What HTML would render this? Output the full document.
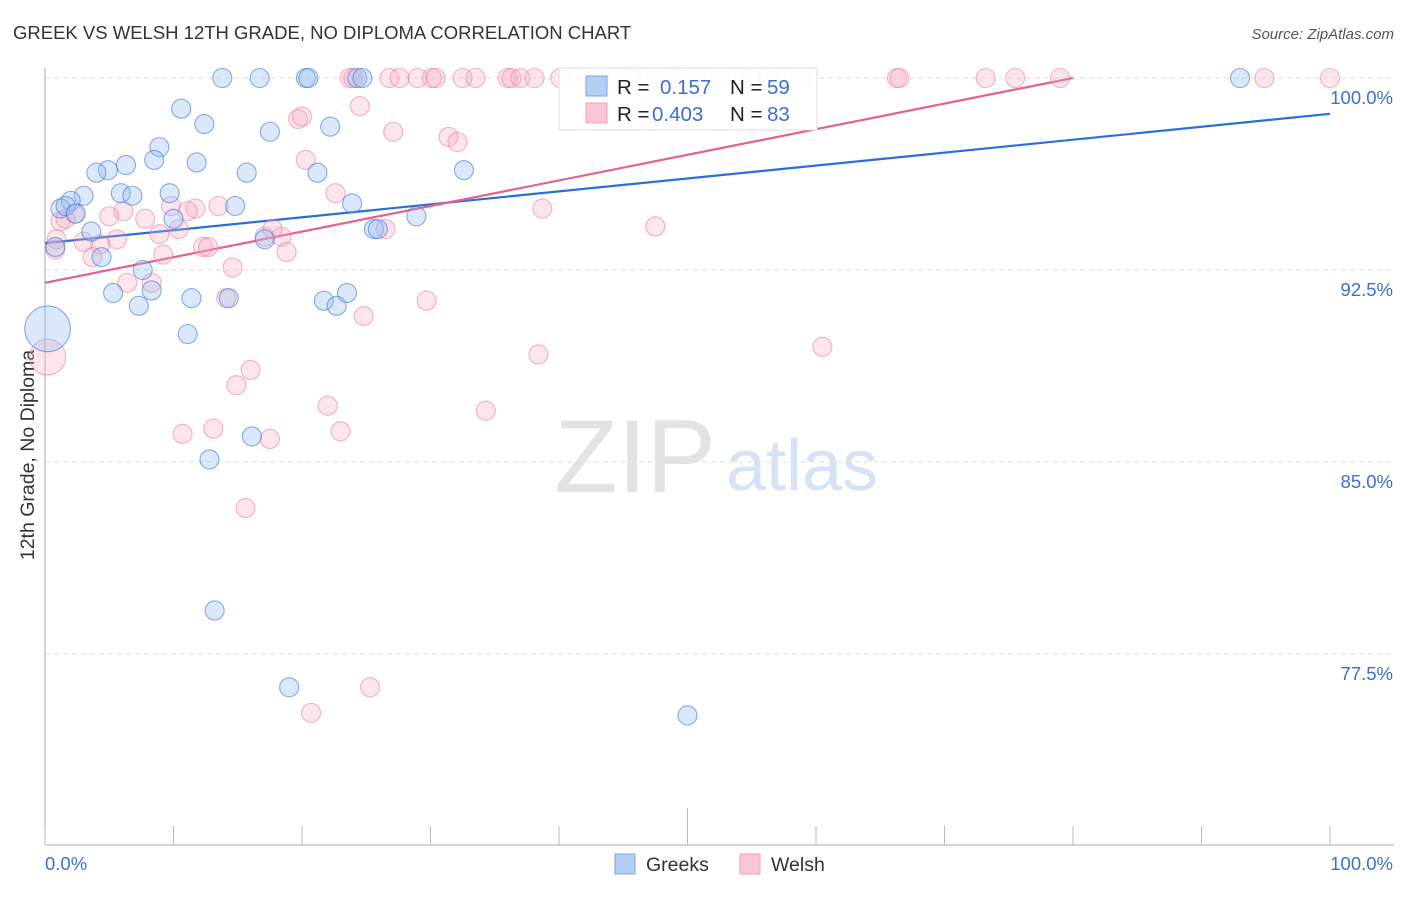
<!DOCTYPE html>
<html><head><meta charset="utf-8">
<style>
body{margin:0;background:#fff;font-family:"Liberation Sans",sans-serif;}
svg text{font-family:"Liberation Sans",sans-serif;}
</style></head>
<body>
<svg id="chart" width="1406" height="892" viewBox="0 0 1406 892" xmlns="http://www.w3.org/2000/svg">
<text x="13" y="39" font-size="18.5" fill="#333">GREEK VS WELSH 12TH GRADE, NO DIPLOMA CORRELATION CHART</text>
<text x="1394" y="39" font-size="15" font-style="italic" fill="#555" text-anchor="end">Source: ZipAtlas.com</text>
<text transform="translate(34,455) rotate(-90)" font-size="19.5" fill="#333" text-anchor="middle">12th Grade, No Diploma</text>
<g>
<text x="635" y="492" font-size="104" font-family="Liberation Serif,serif" fill="#e3e3e3" text-anchor="middle">ZIP</text>
<text x="802" y="490" font-size="72" fill="#d5e3f5" text-anchor="middle">atlas</text>
</g>
<g id="grid"></g>
<g id="axes"></g>
<g id="lines"></g>
<g id="pts"></g>
<g>
<rect x="559" y="68" width="258" height="62" fill="#fff" fill-opacity="0.9" stroke="#ddd"/>
<rect x="586" y="76" width="21" height="20" fill="#b4cff3" stroke="#7aa6e6"/>
<rect x="586" y="103" width="21" height="20" fill="#f9c6d5" stroke="#f0a3bb"/>
<text x="617" y="94" font-size="20.5" fill="#222">R =</text>
<text x="660" y="94" font-size="20.5" fill="#3a70d0">0.157</text>
<text x="730" y="94" font-size="20.5" fill="#222">N =</text>
<text x="767" y="94" font-size="20.5" fill="#3a70d0">59</text>
<text x="617" y="121" font-size="20.5" fill="#222">R =</text>
<text x="652" y="121" font-size="20.5" fill="#3a70d0">0.403</text>
<text x="730" y="121" font-size="20.5" fill="#222">N =</text>
<text x="767" y="121" font-size="20.5" fill="#3a70d0">83</text>
</g>
<g>
<rect x="615" y="854" width="20" height="20" fill="#b4cff3" stroke="#7aa6e6"/>
<text x="646" y="871" font-size="19.5" fill="#333">Greeks</text>
<rect x="740" y="854" width="20" height="20" fill="#f9c6d5" stroke="#f0a3bb"/>
<text x="771" y="871" font-size="19.5" fill="#333">Welsh</text>
</g>
</svg>
<script>
const yTicks=[100,92.5,85,77.5];
const xTickLabels=["0.0%","100.0%"];
const greeksX=[13.8,16.7,20.3,20.5,24.3,24.7,93.0,56.3,10.6,12.4,8.9,17.5,22.2,6.3,4.9,4.0,8.5,11.8,15.7,21.2,32.6,5.9,6.8,9.7,3.0,2.0,1.2,1.6,2.4,14.8,23.9,10.0,28.9,3.6,0.8,4.4,7.6,17.1,25.6,25.9,5.3,8.3,7.3,11.4,14.3,21.7,22.7,23.5,11.1,0.2,16.1,12.8,13.2,19.0,50.0];
const greeksY=[100,100,100,100,100,100,100,100,98.8,98.2,97.3,97.9,98.1,96.6,96.4,96.3,96.8,96.7,96.3,96.3,96.4,95.5,95.4,95.5,95.4,95.2,94.9,95.0,94.7,95.0,95.1,94.5,94.6,94.0,93.4,93.0,92.5,93.7,94.1,94.1,91.6,91.7,91.1,91.4,91.4,91.3,91.1,91.6,90.0,90.2,86.0,85.1,79.2,76.2,75.1];
const greeksSize=[1,1,1,1,1,1,1,1,1,1,1,1,1,1,1,1,1,1,1,1,1,1,1,1,1,1,1,1,1,1,1,1,1,1,1,1,1,1,1,1,1,1,1,1,1,1,1,1,1,2.4,1,1,1,1,1];
const welshX=[23.7,24.0,26.8,27.6,29.0,30.1,30.4,32.5,33.5,36.0,36.3,37.0,38.1,40.1,41.6,43.2,45.5,47.5,49.2,52.5,54.9,58.8,66.3,66.5,73.2,75.5,79.0,94.9,100,24.5,27.1,19.7,20.0,31.4,32.1,20.3,22.6,38.7,47.5,13.5,11.7,11.1,9.8,6.1,5.0,2.3,1.2,1.6,7.8,8.9,10.4,5.6,4.3,3.0,0.9,0.8,3.7,6.4,9.2,12.3,12.7,14.6,17.1,18.4,18.8,17.7,26.5,8.3,14.1,24.8,29.7,38.4,60.5,16.0,14.9,0.2,22.0,34.3,10.7,13.1,17.5,23.0,15.6,25.3,20.7];
const welshY=[100,100,100,100,100,100,100,100,100,100,100,100,100,100,100,100,100,100,100,100,100,100,100,100,100,100,100,100,100,98.9,97.9,98.4,98.5,97.7,97.5,96.8,95.5,94.9,94.2,95.0,94.9,94.8,95.0,94.8,94.6,94.7,94.4,94.5,94.5,93.9,94.1,93.7,93.5,93.6,93.7,93.3,93.0,92.0,93.1,93.4,93.4,92.6,93.8,93.8,93.2,94.1,94.1,92.0,91.4,90.7,91.3,89.2,89.5,88.6,88.0,89.1,87.2,87.0,86.1,86.3,85.9,86.2,83.2,76.2,75.2];
const welshSize=welshX.map((v,i)=>i===75?1.9:1);
const greeksFit=[93.55,98.6];
const welshFit=[92.0,102.0];

const NS="http://www.w3.org/2000/svg";
const X0=45,X1=1330,Y100=78,PXPER=192/7.5,AXY=845;
const sx=v=>X0+(X1-X0)*v/100;
const sy=v=>Y100+(100-v)*PXPER;
function mk(tag,attrs,parent){const e=document.createElementNS(NS,tag);for(const k in attrs)e.setAttribute(k,attrs[k]);parent.appendChild(e);return e;}
const grid=document.getElementById('grid'),axes=document.getElementById('axes');
yTicks.forEach(t=>{
 const l=mk('line',{x1:X0,x2:1394,y1:sy(t),y2:sy(t),stroke:'#ddd','stroke-dasharray':'5,4'},grid);
 
 
 const tx=mk('text',{x:1393,y:sy(t)+26,'font-size':18.5,fill:'#3a70d0','text-anchor':'end'},grid);
 tx.textContent=t.toFixed(1)+'%';
 
 
});
const ya=mk('line',{x1:X0,x2:X0,y1:68,y2:AXY,stroke:'#aaa'},axes);


const xa=mk('line',{x1:X0,x2:1394,y1:AXY,y2:AXY,stroke:'#aaa'},axes);


for(let i=0;i<=10;i++){
 const t=mk('line',{x1:sx(i*10),x2:sx(i*10),y1:i===5?808:826,y2:AXY,stroke:'#bbb'},axes);
 
 
}
[[0,'start'],[100,'end']].forEach((p,i)=>{
 const t=mk('text',{x:i?1393:45,y:870,'font-size':18.5,fill:'#3a70d0','text-anchor':p[1]},axes);
 t.textContent=xTickLabels[i];
 
 
});
const pts=document.getElementById('pts');
function series(xs,ys,ss,fill,stroke,name){
 xs.forEach((x,i)=>{
  const c=mk('circle',{cx:sx(x),cy:sy(ys[i]),r:9.5*ss[i],fill:fill,stroke:stroke,'stroke-width':1.1},pts);
  
  
 });
}
series(welshX,welshY,welshSize,'rgba(246,170,195,0.3)','rgba(232,120,155,0.55)','welsh-point');
series(greeksX,greeksY,greeksSize,'rgba(150,190,240,0.35)','rgba(60,120,215,0.6)','greeks-point');
const lines=document.getElementById('lines');
const gl=mk('line',{x1:sx(0),y1:sy(greeksFit[0]),x2:sx(100),y2:sy(greeksFit[1]),stroke:'#2a6fd6','stroke-width':2.2},lines);


const slope=(welshFit[1]-welshFit[0])/100;
const xEnd=Math.min(100,(100-welshFit[0])/slope);
const wl=mk('line',{x1:sx(0),y1:sy(welshFit[0]),x2:sx(xEnd),y2:sy(welshFit[0]+slope*xEnd),stroke:'#e5608c','stroke-width':2.2},lines);


</script>
</body></html>
